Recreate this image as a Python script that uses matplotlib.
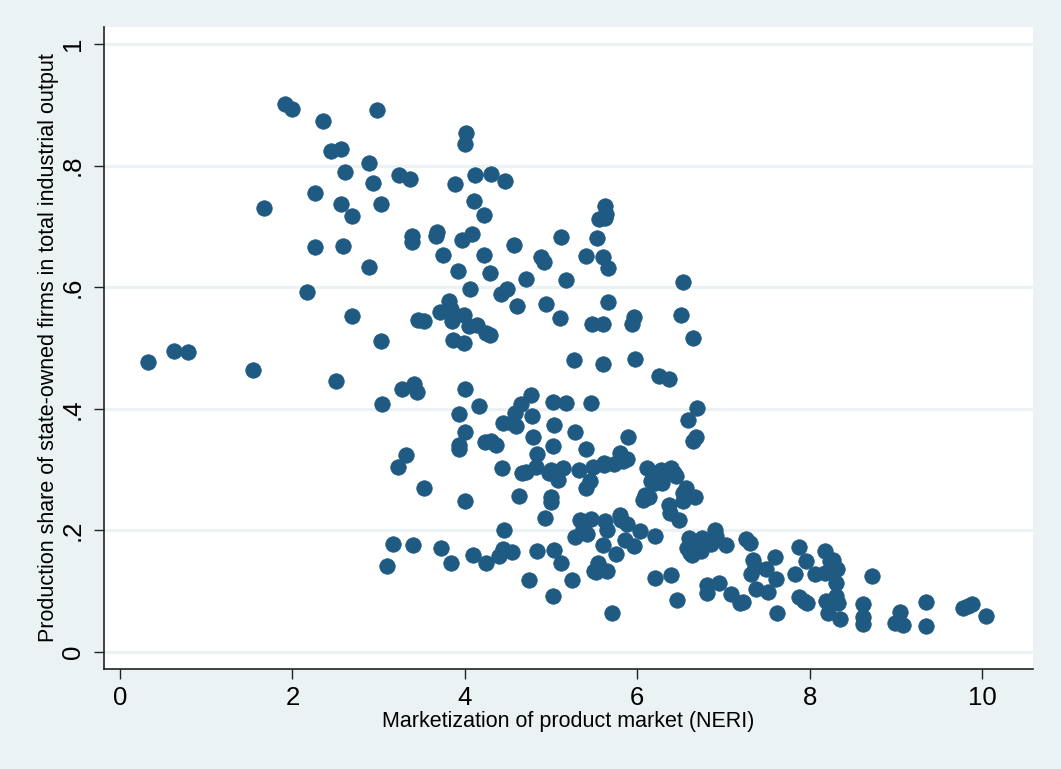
import matplotlib
matplotlib.use("Agg")
import matplotlib.pyplot as plt

# Marketization index (x) and state-owned production share (y)
marketization = [
    0.32, 0.63, 0.79, 1.54, 1.67, 1.91, 2.00, 2.35, 2.17, 2.26, 2.26, 2.45, 2.56, 2.51, 2.56, 2.61,
    2.59, 2.69, 2.69, 2.89, 2.89, 2.94, 2.98, 3.03, 3.03, 3.04, 3.10, 3.17, 3.22, 3.24, 3.27, 3.32,
    3.36, 3.39, 3.39, 3.41, 3.45, 3.40, 3.46, 3.53, 3.53, 3.67, 3.68, 3.72, 3.71, 3.75, 3.82, 3.84,
    3.84, 3.85, 3.89, 3.86, 3.92, 3.93, 3.93, 3.93, 3.97, 3.99, 3.99, 4.00, 4.00, 4.00, 4.01, 4.00,
    4.05, 4.06, 4.08, 4.10, 4.12, 4.11, 4.14, 4.16, 4.22, 4.22, 4.24, 4.23, 4.24, 4.29, 4.30, 4.30,
    4.29, 4.36, 4.40, 4.42, 4.43, 4.44, 4.47, 4.44, 4.49, 4.45, 4.55, 4.55, 4.57, 4.59, 4.58, 4.61,
    4.63, 4.65, 4.66, 4.71, 4.71, 4.74, 4.77, 4.79, 4.78, 4.82, 4.84, 4.84, 4.88, 4.92, 4.94, 4.93,
    5.00, 5.00, 5.00, 4.98, 5.02, 5.02, 5.03, 5.03, 5.02, 5.08, 5.10, 5.12, 5.12, 5.14, 5.17, 5.17,
    5.24, 5.26, 5.28, 5.28, 5.32, 5.34, 5.37, 5.41, 5.41, 5.42, 5.41, 5.45, 5.46, 5.49, 5.48, 5.46,
    5.50, 5.52, 5.53, 5.54, 5.55, 5.60, 5.60, 5.60, 5.61, 5.63, 5.63, 5.64, 5.60, 5.61, 5.63, 5.65,
    5.66, 5.66, 5.65, 5.71, 5.73, 5.75, 5.80, 5.80, 5.81, 5.83, 5.86, 5.88, 5.88, 5.89, 5.94, 5.96,
    5.97, 5.96, 6.03, 6.07, 6.09, 6.11, 6.13, 6.16, 6.18, 6.20, 6.21, 6.21, 6.25, 6.27, 6.29, 6.31,
    6.37, 6.37, 6.38, 6.39, 6.39, 6.42, 6.45, 6.46, 6.48, 6.51, 6.53, 6.53, 6.53, 6.56, 6.58, 6.59,
    6.60, 6.61, 6.64, 6.65, 6.65, 6.67, 6.68, 6.69, 6.69, 6.74, 6.75, 6.81, 6.81, 6.86, 6.90, 6.91,
    6.95, 7.03, 7.09, 7.19, 7.23, 7.26, 7.31, 7.32, 7.34, 7.36, 7.38, 7.49, 7.52, 7.60, 7.61, 7.62,
    7.83, 7.87, 7.88, 7.93, 7.96, 7.97, 8.06, 8.18, 8.18, 8.19, 8.21, 8.24, 8.26, 8.27, 8.31, 8.32,
    8.33, 8.31, 8.35, 8.72, 8.62, 8.62, 8.62, 8.99, 9.05, 9.08, 9.35, 9.35, 9.78, 9.84, 9.88, 10.05,
]
soe_share = [
    0.477, 0.495, 0.493, 0.464, 0.730, 0.901, 0.893, 0.874, 0.592, 0.755, 0.666, 0.824, 0.827, 0.446, 0.737, 0.790,
    0.668, 0.717, 0.553, 0.804, 0.633, 0.771, 0.891, 0.737, 0.512, 0.408, 0.141, 0.178, 0.304, 0.785, 0.433, 0.324,
    0.778, 0.684, 0.674, 0.440, 0.428, 0.176, 0.546, 0.545, 0.270, 0.684, 0.690, 0.171, 0.560, 0.653, 0.577, 0.146,
    0.564, 0.544, 0.770, 0.513, 0.627, 0.391, 0.340, 0.334, 0.677, 0.508, 0.554, 0.432, 0.362, 0.248, 0.853, 0.835,
    0.536, 0.597, 0.688, 0.160, 0.785, 0.742, 0.538, 0.405, 0.719, 0.653, 0.525, 0.345, 0.146, 0.521, 0.347, 0.786,
    0.623, 0.340, 0.158, 0.589, 0.303, 0.377, 0.775, 0.169, 0.597, 0.200, 0.164, 0.377, 0.669, 0.372, 0.393, 0.569,
    0.257, 0.408, 0.294, 0.296, 0.613, 0.118, 0.423, 0.354, 0.388, 0.304, 0.326, 0.166, 0.649, 0.641, 0.572, 0.220,
    0.299, 0.255, 0.246, 0.294, 0.411, 0.339, 0.373, 0.168, 0.092, 0.283, 0.549, 0.682, 0.146, 0.303, 0.410, 0.612,
    0.118, 0.480, 0.362, 0.189, 0.299, 0.217, 0.202, 0.270, 0.334, 0.194, 0.651, 0.281, 0.219, 0.304, 0.539, 0.410,
    0.133, 0.132, 0.681, 0.146, 0.712, 0.176, 0.650, 0.539, 0.311, 0.714, 0.733, 0.720, 0.473, 0.308, 0.215, 0.201,
    0.576, 0.632, 0.133, 0.064, 0.309, 0.161, 0.327, 0.225, 0.217, 0.314, 0.184, 0.317, 0.211, 0.354, 0.539, 0.551,
    0.482, 0.174, 0.199, 0.250, 0.258, 0.303, 0.255, 0.281, 0.294, 0.278, 0.191, 0.122, 0.454, 0.299, 0.278, 0.294,
    0.242, 0.449, 0.229, 0.127, 0.303, 0.294, 0.289, 0.086, 0.217, 0.554, 0.609, 0.248, 0.262, 0.270, 0.171, 0.382,
    0.187, 0.163, 0.160, 0.347, 0.516, 0.255, 0.354, 0.401, 0.174, 0.166, 0.187, 0.097, 0.110, 0.178, 0.201, 0.191,
    0.113, 0.176, 0.095, 0.081, 0.082, 0.186, 0.179, 0.128, 0.151, 0.140, 0.104, 0.137, 0.099, 0.156, 0.120, 0.064,
    0.128, 0.090, 0.173, 0.084, 0.150, 0.081, 0.128, 0.166, 0.130, 0.084, 0.064, 0.150, 0.140, 0.151, 0.113, 0.137,
    0.081, 0.092, 0.054, 0.125, 0.079, 0.058, 0.046, 0.048, 0.066, 0.044, 0.082, 0.043, 0.072, 0.076, 0.079, 0.059,
]

x_ticks = [0, 2, 4, 6, 8, 10]
x_tick_labels = ["0", "2", "4", "6", "8", "10"]
y_ticks = [0, 0.2, 0.4, 0.6, 0.8, 1.0]
y_tick_labels = ["0", ".2", ".4", ".6", ".8", "1"]

x_title = "Marketization of product market (NERI)"
y_title = "Production share of state-owned firms in total industrial output"

plt.rcParams['font.family'] = ['Liberation Sans', 'DejaVu Sans']

bg = "#EAF2F3"
marker_color = "#1F5A83"
axis_color = "#222222"

fig = plt.figure(figsize=(10.61, 7.69), dpi=100, facecolor=bg)
ax = fig.add_axes([104 / 1061, 1 - 669 / 769, (1033 - 104) / 1061, (669 - 27) / 769])
ax.set_facecolor("white")

ax.scatter(marketization, soe_share, s=125, color=marker_color,
           edgecolors=marker_color, linewidths=0.5, zorder=3)

ax.set_xlim(-0.186, 10.59)
ax.set_ylim(-0.028, 1.028)

ax.set_xticks(x_ticks)
ax.set_xticklabels(x_tick_labels)
ax.set_yticks(y_ticks)
ax.set_yticklabels(y_tick_labels, rotation=90, va="center")

ax.grid(axis="y", color=bg, linewidth=2.2, zorder=0)
ax.set_axisbelow(True)

for side in ("top", "right"):
    ax.spines[side].set_visible(False)
for side in ("left", "bottom"):
    ax.spines[side].set_color(axis_color)
    ax.spines[side].set_linewidth(1.2)

ax.tick_params(axis="both", direction="out", length=7, width=1.0,
               color=axis_color, labelsize=18.5, labelcolor="black")
ax.tick_params(axis="x", pad=5)
ax.tick_params(axis="y", pad=7)

ax.set_xlabel(x_title, fontsize=15.5, labelpad=1)
ax.set_ylabel(y_title, fontsize=15.5, labelpad=1)

fig.savefig("out.png", dpi=100, facecolor=bg)
